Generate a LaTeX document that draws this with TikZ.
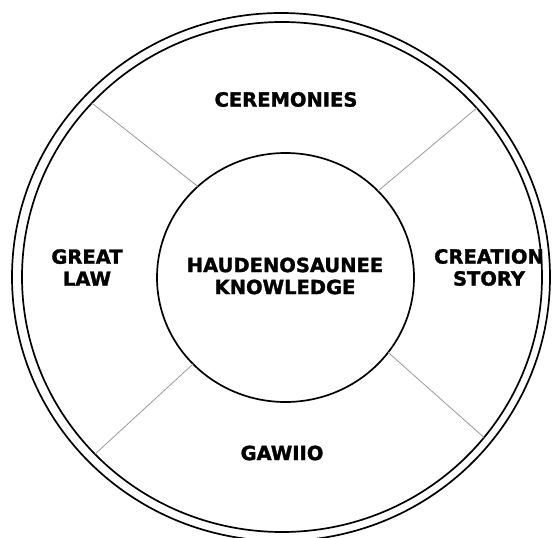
\documentclass[tikz,border=0pt]{standalone}
\usepackage{fontspec}
\setmainfont{DejaVu Sans}[BoldFeatures={FakeBold=1.5}]
\usetikzlibrary{calc}
\tikzset{
  ring/.style={draw=black, line width=1.7pt},
  spoke/.style={draw=black!40, line width=0.8pt},
  lbl/.style={font=\bfseries\fontsize{19.5}{22}\selectfont, align=center, inner sep=0pt}
}
\begin{document}
\begin{tikzpicture}[x=1pt,y=-1pt]
\useasboundingbox (0,0) rectangle (557,538);
\coordinate (co) at (281,277);
\coordinate (cr) at (282,277);
\coordinate (ci) at (285.5,277.5);
\draw[ring] (co) ellipse [x radius=269, y radius=264];
\draw[ring] (cr) ellipse [x radius=260, y radius=255];
\draw[ring] (ci) ellipse [x radius=128.5, y radius=124.5];
% spoke end points
\coordinate (ulo) at ($(cr)+(137:260pt and 255pt)$);
\coordinate (uli) at ($(ci)+(133:128.5pt and 124.5pt)$);
\coordinate (uro) at ($(cr)+(41.5:260pt and 255pt)$);
\coordinate (uri) at ($(ci)+(44:128.5pt and 124.5pt)$);
\coordinate (llo) at ($(cr)+(224:260pt and 255pt)$);
\coordinate (lli) at ($(ci)+(224:128.5pt and 124.5pt)$);
\coordinate (lro) at ($(cr)+(-39:260pt and 255pt)$);
\coordinate (lri) at ($(ci)+(-37:128.5pt and 124.5pt)$);
\draw[spoke] (ulo) -- (uli);
\draw[spoke] (uro) -- (uri);
\draw[spoke] (llo) -- (lli);
\draw[spoke] (lro) -- (lri);
% labels
\node[lbl] (cer) at (286,99.5) {CEREMONIES};
\node[lbl] (law) at (87,267.5) {GREAT\\LAW};
\node[lbl] (cre) at (489,267.5) {CREATION\\STORY};
\node[lbl] (gaw) at (282,453) {GAWIIO};
\node[lbl] (hk) at (285,276) {HAUDENOSAUNEE\\KNOWLEDGE};
\end{tikzpicture}
\end{document}
